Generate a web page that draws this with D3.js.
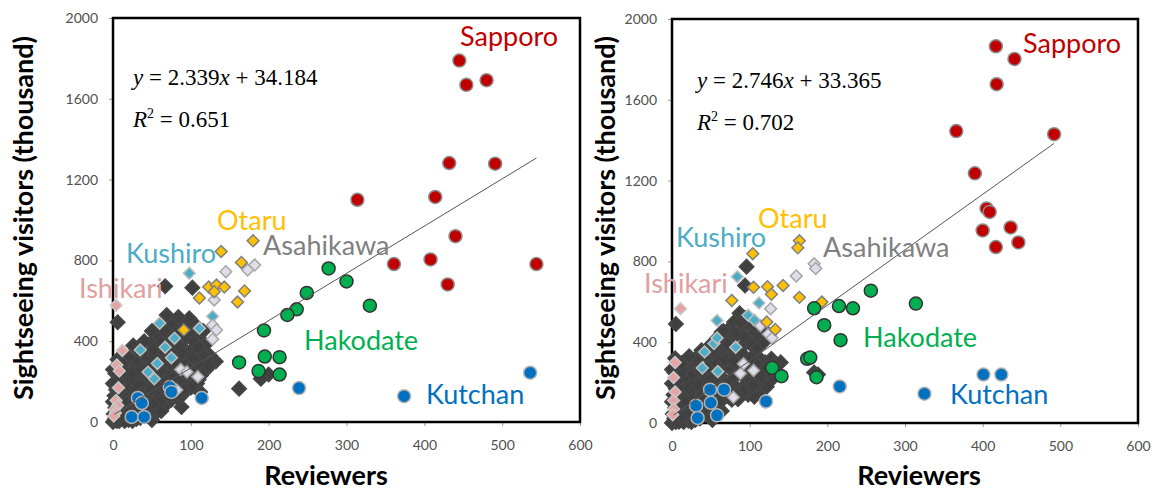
<!DOCTYPE html>
<html>
<head>
<meta charset="utf-8">
<script src="https://cdn.jsdelivr.net/npm/d3@7"></script>
<style>
  body { margin: 0; background: #fff; }
  text { font-family: Lato, "Open Sans", sans-serif; }
</style>
</head>
<body>
<script>
// tick values shared by both panels
var xTicks = [0, 100, 200, 300, 400, 500, 600];
var yTicks = [0, 400, 800, 1200, 1600, 2000];

// ---- left panel data [reviewers, visitors] ----
var sapporoL = [[445,1789],[454,1669],[480,1692],[432,1282],[491,1279],[314,1100],
  [414,1114],[440,920],[361,782],[408,805],[430,681],[544,782]];
var hakodateL = [[277,760],[300,696],[249,639],[330,576],[236,558],[224,530],
  [194,453],[162,295],[195,324],[214,321],[187,252],[214,235]];
var kutchanL = [[536,244],[374,128],[239,168],[114,119],[73,173],[75,149],
  [32,119],[37,94],[24,25],[40,25]];
var otaruL = [[139,844],[180,897],[165,790],[123,668],[133,678],[143,668],
  [169,649],[111,614],[160,594],[130,645],[91,456]];
var asahikawaL = [[182,777],[173,752],[145,744],[130,604],[128,480],[133,456],
  [128,410],[87,260],[109,224],[82,158],[95,248]];
var kushiroL = [[98,736],[60,489],[128,523],[111,464],[79,415],[67,370],
  [35,357],[75,318],[57,290],[45,247],[53,214]];
var ishikariL = [[4,578],[12,354],[5,282],[8,252],[7,170],[4,106],[6,82],[2,62],[3,45],[1,30]];
var othersL = [[0,0],[2,10],[5,20],[1,40],[8,5],[12,15],[3,70],[10,50],[15,30],[20,10],
  [25,25],[18,60],[6,100],[2,130],[12,120],[22,90],[30,50],[35,20],[28,80],[40,60],
  [45,30],[50,10],[4,160],[14,180],[10,210],[3,240],[18,150],[26,130],[34,110],[42,90],
  [50,70],[55,45],[20,240],[28,200],[36,170],[44,150],[52,120],[58,100],[65,75],
  [8,280],[16,270],[24,260],[30,230],[38,210],[46,190],[54,170],[62,150],[68,130],
  [75,110],[6,310],[14,330],[34,280],[42,250],[50,230],[58,210],[66,190],[72,170],
  [80,150],[88,130],[40,300],[48,290],[56,270],[64,250],[72,230],[80,210],[88,200],
  [96,180],[62,310],[70,290],[78,270],[86,260],[94,240],[102,230],[110,210],[80,330],
  [88,320],[96,300],[104,290],[112,270],[120,260],[92,360],[100,350],[84,400],[70,380],
  [60,420],[50,450],[76,480],[90,470],[96,500],[110,420],[118,380],[124,330],[132,300],
  [26,379],[48,390],[6,494],[69,530],[98,513],[67,672],[102,665],[116,329],[126,288],
  [112,148],[162,165],[88,74],[60,90],[200,235],[190,214],
  [5,5],[15,5],[25,5],[30,15],[10,30],[20,35],[30,35],[5,55],[15,45],[25,45],[35,45],
  [45,50],[8,90],[18,85],[30,70],[38,80],[48,85],[55,60],[62,55],[16,110],[24,110],
  [40,125],[48,135],[56,140],[8,135],[20,125],[10,165],[22,170],[30,160],[40,180],
  [32,190],[24,215],[16,225],[40,235],[48,215],[56,195],[64,175],[70,155],[78,135],
  [84,115],[92,150],[100,170],[108,190],[26,290],[18,300],[30,310],[44,320],[54,330],
  [66,340],[76,350],[86,370],[74,410],[94,420],[104,400],[100,450],[116,450],[84,520],
  [60,480],[40,400],[34,350],[20,320],
  [3,20],[13,40],[23,55],[33,60],[43,70],[53,95],[63,110],[73,125],[83,140],[93,165],
  [103,180],[113,230],[123,280],[9,75],[19,100],[29,120],[39,140],[49,160],[59,185],
  [69,200],[79,225],[89,245],[99,260],[109,290],[6,200],[14,250],[26,240],[36,260],
  [46,270],[58,290],[68,310],[78,300],[90,340],[102,320],[110,370],[52,360],[62,390],
  [80,440],[106,480],[66,450],[0,190],[0,260],[0,100],[12,290]];

// ---- right panel data ----
var sapporoR = [[417,1865],[441,1802],[418,1677],[366,1445],[492,1430],[390,1236],
  [405,1062],[409,1045],[400,953],[436,968],[417,871],[446,894]];
var hakodateR = [[256,655],[314,591],[183,568],[215,579],[233,568],[196,484],
  [217,410],[174,318],[178,324],[129,273],[141,232],[186,227]];
var kutchanR = [[401,240],[424,240],[325,145],[216,181],[121,107],[67,165],
  [49,165],[31,86],[50,100],[33,25],[58,38]];
var otaruR = [[164,902],[162,867],[104,838],[105,672],[123,675],[143,681],
  [128,637],[164,622],[193,599],[77,606],[122,500],[133,463]];
var asahikawaR = [[183,788],[185,765],[160,728],[127,566],[114,481],[124,440],
  [129,421],[105,260],[88,245],[79,127],[92,293]];
var kushiroR = [[84,724],[112,594],[98,533],[106,510],[58,507],[54,393],
  [58,421],[82,375],[42,352],[39,272],[59,255]];
var ishikariR = [[11,566],[4,300],[2,225],[4,153],[2,112],[2,69],[1,41]];
var othersR = [[0,0],[3,12],[6,25],[1,45],[9,6],[13,18],[4,75],[11,55],[16,33],[21,12],
  [26,28],[19,65],[7,105],[2,140],[13,125],[23,95],[31,55],[36,22],[29,85],[41,65],
  [46,35],[52,15],[5,170],[15,190],[11,220],[3,250],[19,160],[27,140],[35,115],[43,95],
  [51,75],[57,50],[8,290],[17,280],[25,265],[33,240],[40,215],[48,195],[56,175],
  [63,155],[70,135],[77,115],[4,320],[22,310],[32,290],[45,270],[53,250],[61,230],
  [68,210],[75,190],[83,175],[90,155],[98,140],[106,130],[36,330],[50,320],[60,300],
  [68,285],[76,265],[84,250],[92,230],[100,215],[110,200],[60,360],[70,350],[78,330],
  [86,310],[94,290],[102,270],[66,400],[76,420],[84,440],[90,470],[80,500],[72,460],
  [100,490],[106,450],[96,400],[110,330],[120,300],[96,774],[94,681],[5,490],[99,411],
  [87,543],[128,318],[128,214],[183,250],[92,178],[115,165],[122,180],[75,170],
  [60,130],[40,150],[30,120],[134,260],[140,300],[188,240],
  [5,5],[15,5],[25,5],[30,15],[10,30],[20,38],[32,38],[5,58],[16,48],[26,48],[38,45],
  [47,52],[8,92],[18,88],[31,72],[39,82],[49,88],[56,62],[64,60],[16,112],[24,112],
  [41,128],[49,138],[57,142],[8,138],[20,128],[10,168],[22,172],[31,162],[42,182],
  [33,192],[24,218],[16,228],[41,238],[49,218],[57,198],[65,178],[71,158],[79,138],
  [85,118],[93,158],[101,172],[109,190],[27,295],[18,305],[30,318],[45,330],[56,340],
  [66,330],[76,375],[86,360],[74,440],[92,430],[104,380],[112,420],[116,470],[88,500],
  [64,450],[48,380],[38,360],[22,330],[100,240],[108,260],[116,230],[124,250],
  [130,290],[112,290],
  [3,22],[14,42],[24,58],[34,62],[44,75],[54,98],[64,112],[74,128],[84,142],[94,168],
  [104,185],[114,232],[122,275],[9,78],[19,102],[29,124],[39,142],[50,162],[60,188],
  [70,204],[80,228],[90,248],[100,262],[108,292],[6,204],[14,254],[26,244],[36,262],
  [46,274],[58,294],[68,314],[80,304],[90,344],[102,322],[110,372],[52,362],[62,392],
  [82,445],[106,485],[66,455],[0,195],[0,265],[0,105],[12,295],[72,390],[58,420],
  [95,520],[118,400]];

var width = 1159;
var height = 491;
var svg = d3.select("body")
    .append("svg")
    .attr("width", width)
    .attr("height", height);

var diamond = d3.symbol().type(d3.symbolSquare);

function drawPanel(p) {
    var x = d3.scaleLinear().domain([0, 600]).range([p.left, p.right]);
    var y = d3.scaleLinear().domain([0, 2000]).range([p.bottom, p.top]);
    var g = svg.append("g");

    // axes (the frame is drawn separately)
    var xAxis = g.append("g")
        .attr("transform", "translate(0," + p.bottom + ")")
        .call(d3.axisBottom(x).tickValues(xTicks).tickFormat(d3.format("d"))
            .tickSize(4).tickPadding(14));
    var yAxis = g.append("g")
        .attr("transform", "translate(" + p.left + ",0)")
        .call(d3.axisLeft(y).tickValues(yTicks).tickFormat(d3.format("d"))
            .tickSize(4).tickPadding(11));
    [xAxis, yAxis].forEach(function (a) {
        a.select(".domain").remove();
        a.selectAll("line").attr("stroke", "#999");
        a.selectAll("text")
            .style("font-size", "14px")
            .attr("fill", "#505050");
    });

    g.append("rect")
        .attr("x", p.left).attr("y", p.top)
        .attr("width", p.right - p.left).attr("height", p.bottom - p.top)
        .attr("fill", "none").attr("stroke", "#000").attr("stroke-width", 2.5);

    // diamonds
    function diamonds(data, fill, stroke, size) {
        g.append("g").selectAll("path")
            .data(data)
            .enter()
            .append("path")
            .attr("d", diamond.size(size)())
            .attr("transform", function (d) {
                return "translate(" + x(d[0]) + "," + y(d[1]) + ") rotate(45)";
            })
            .attr("fill", fill)
            .attr("stroke", stroke)
            .attr("stroke-width", 1.5);
    }
    diamonds(p.others, "#404040", "#474747", 105);
    diamonds(p.ishikari, "#e6a3a3", "#c9c9c9", 70);
    diamonds(p.kushiro, "#4bacc6", "#c0c0c0", 70);
    diamonds(p.asahikawa, "#dfdde9", "#a6a6a6", 70);
    diamonds(p.otaru, "#ffc000", "#808080", 70);

    // circles
    function circles(data, fill, stroke) {
        g.append("g").selectAll("circle")
            .data(data)
            .enter()
            .append("circle")
            .attr("cx", function (d) { return x(d[0]); })
            .attr("cy", function (d) { return y(d[1]); })
            .attr("r", 6.5)
            .attr("fill", fill)
            .attr("stroke", stroke)
            .attr("stroke-width", 1.5);
    }
    circles(p.kutchan, "#0070c0", "#b3b3b3");
    circles(p.hakodate, "#00b050", "#333");
    circles(p.sapporo, "#c00000", "#8c8c8c");

    // trend line
    g.append("line")
        .attr("x1", x(p.fit[0])).attr("y1", y(p.slope * p.fit[0] + p.icept))
        .attr("x2", x(p.fit[1])).attr("y2", y(p.slope * p.fit[1] + p.icept))
        .attr("stroke", "#555").attr("stroke-width", 1);

    // equation
    var eq = g.append("text")
        .attr("x", p.eqX).attr("y", p.eqY)
        .style("font-family", "'Liberation Serif', serif")
        .style("font-size", "23px");
    eq.append("tspan").style("font-style", "italic").text("y");
    eq.append("tspan").text(" = " + p.slope.toFixed(3));
    eq.append("tspan").style("font-style", "italic").text("x");
    eq.append("tspan").text(" + " + p.icept.toFixed(3));
    var r2 = g.append("text")
        .attr("x", p.eqX).attr("y", p.eqY + 42)
        .style("font-family", "'Liberation Serif', serif")
        .style("font-size", "23px");
    r2.append("tspan").style("font-style", "italic").text("R");
    r2.append("tspan").attr("dy", -9).style("font-size", "14px").text("2");
    r2.append("tspan").attr("dy", 9).text(" = " + p.r2);

    // city labels
    g.selectAll(".city")
        .data(p.labels)
        .enter()
        .append("text")
        .attr("class", "city")
        .attr("x", function (d) { return d[1]; })
        .attr("y", function (d) { return d[2]; })
        .attr("fill", function (d) { return d[3]; })
        .style("font-size", "27px")
        .text(function (d) { return d[0]; });

    // axis titles
    g.append("text")
        .attr("x", p.xTitleX).attr("y", 485)
        .attr("text-anchor", "middle")
        .style("font-size", "27px").style("font-weight", "bold")
        .text("Reviewers");
    g.append("text")
        .attr("transform", "translate(" + p.yTitleX + "," + 218 + ") rotate(-90)")
        .attr("text-anchor", "middle")
        .style("font-size", "27px").style("font-weight", "bold")
        .text("Sightseeing visitors (thousand)");
}

drawPanel({
    left: 113, right: 580, top: 18, bottom: 422,
    sapporo: sapporoL, hakodate: hakodateL, kutchan: kutchanL, otaru: otaruL,
    asahikawa: asahikawaL, kushiro: kushiroL, ishikari: ishikariL, others: othersL,
    slope: 2.339, icept: 34.184, r2: "0.651", fit: [2, 544],
    eqX: 133, eqY: 85, xTitleX: 326, yTitleX: 33,
    labels: [["Sapporo", 460, 46, "#c00000"], ["Otaru", 217, 230, "#ffc000"],
        ["Kushiro", 126, 263, "#4bacc6"], ["Asahikawa", 263, 255, "#808080"],
        ["Ishikari", 79, 298, "#e0a0a0"], ["Hakodate", 304, 350, "#00b050"],
        ["Kutchan", 426, 404, "#0070c0"]]
});

drawPanel({
    left: 672, right: 1138, top: 19, bottom: 423,
    sapporo: sapporoR, hakodate: hakodateR, kutchan: kutchanR, otaru: otaruR,
    asahikawa: asahikawaR, kushiro: kushiroR, ishikari: ishikariR, others: othersR,
    slope: 2.746, icept: 33.365, r2: "0.702", fit: [2, 492],
    eqX: 697, eqY: 88, xTitleX: 919, yTitleX: 615,
    labels: [["Sapporo", 1023, 53, "#c00000"], ["Otaru", 758, 228, "#ffc000"],
        ["Kushiro", 676, 247, "#4bacc6"], ["Asahikawa", 823, 257, "#808080"],
        ["Ishikari", 644, 293, "#e0a0a0"], ["Hakodate", 863, 347, "#00b050"],
        ["Kutchan", 950, 404, "#0070c0"]]
});
</script>
</body>
</html>
